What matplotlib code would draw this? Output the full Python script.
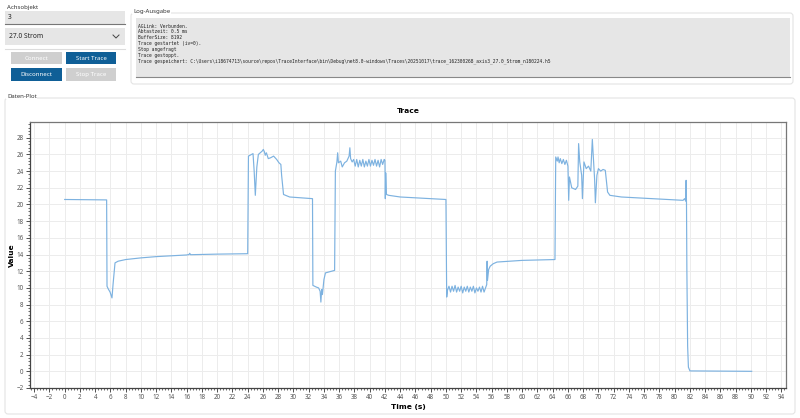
import numpy as np
import matplotlib.pyplot as plt
from matplotlib.patches import Rectangle, FancyBboxPatch
from matplotlib.ticker import MultipleLocator, AutoMinorLocator

# Daten
zeit = [
    0.0, 5.5, 5.55, 5.7, 5.95, 6.2, 6.35, 6.6, 7.0, 8.0, 10.0, 12.0, 14.0,
    16.0, 16.3, 16.4, 16.5, 20.0, 24.0,
    24.1, 24.5, 24.7, 24.85, 25.0, 25.2, 25.4, 25.9, 26.05, 26.2, 26.3, 26.45,
    26.7, 27.0, 27.4, 27.8, 28.1, 28.35, 28.45, 28.7, 29.5, 31.0, 32.5,
    32.55, 33.0, 33.3, 33.5, 33.6, 33.7, 33.8, 34.0, 34.2, 35.0, 35.4,
    35.5, 35.7, 35.8, 35.9, 36.2, 36.4, 36.7, 37.0, 37.3, 37.4, 37.5, 37.7,
    37.9, 38.1, 38.3, 38.5, 38.7, 38.9, 39.1, 39.3, 39.5, 39.7, 39.9, 40.1,
    40.3, 40.5, 40.7, 40.9, 41.1, 41.3, 41.5, 41.7, 41.9,
    42.0, 42.05, 42.1, 42.2, 42.5, 44.0, 47.0, 50.0,
    50.1, 50.2, 50.4, 50.6, 50.8, 51.0, 51.2, 51.4, 51.6, 51.8, 52.0, 52.2,
    52.4, 52.6, 52.8, 53.0, 53.2, 53.4, 53.6, 53.8, 54.0, 54.2, 54.4, 54.6,
    54.8, 55.0, 55.2, 55.35, 55.4, 55.45, 55.6, 55.8, 56.2, 56.7, 60.0, 64.3,
    64.4, 64.6, 64.7, 64.85, 65.0, 65.2, 65.4, 65.6, 65.8, 66.0, 66.1, 66.2,
    66.5, 67.0, 67.3, 67.4, 67.55, 67.8, 67.9, 68.1, 68.4, 68.7, 69.0, 69.2,
    69.5, 69.6, 69.8, 70.0, 70.3, 70.6, 70.9, 71.2, 71.5, 73.0, 76.0, 79.0,
    81.1, 81.3, 81.45, 81.5, 81.55, 81.6, 81.7, 81.8, 82.0, 90.1,
]
wert = [
    20.6, 20.55, 10.2, 9.9, 9.5, 8.8, 10.5, 13.0, 13.2, 13.4, 13.6, 13.75, 13.85,
    13.95, 14.0, 14.15, 13.98, 14.05, 14.1,
    25.8, 26.0, 26.1, 24.0, 21.1, 24.5, 26.0, 26.4, 26.6, 26.3, 25.9, 26.2,
    25.5, 25.6, 25.8, 25.4, 25.0, 24.8, 23.5, 21.2, 20.9, 20.8, 20.7,
    10.3, 10.1, 10.0, 9.6, 8.3, 9.8, 9.2, 11.0, 11.8, 12.0, 12.1,
    24.0, 25.1, 26.2, 25.0, 25.2, 24.5, 25.0, 25.2, 25.8, 26.8, 25.5, 25.1,
    25.4, 24.6, 25.4, 24.5, 25.3, 24.6, 25.4, 24.5, 25.2, 24.6, 25.4, 24.6,
    25.3, 24.7, 25.4, 24.6, 25.3, 24.5, 25.4, 24.8, 25.4,
    25.3, 20.7, 23.8, 21.2, 21.1, 20.9, 20.75, 20.6,
    8.9, 9.7, 10.2, 9.5, 10.2, 9.6, 10.3, 9.5, 10.1, 9.6, 10.2, 9.4,
    10.1, 9.6, 10.2, 9.5, 10.1, 9.6, 10.2, 9.4, 10.0, 9.6, 10.1, 9.5,
    10.2, 9.5, 10.0, 10.4, 13.2, 10.9, 12.2, 12.6, 12.9, 13.1, 13.3, 13.4,
    25.7, 25.2, 25.7, 25.0, 25.5, 24.9, 25.4, 24.8, 25.3, 24.6, 20.5, 23.3,
    22.0, 21.8, 22.2, 27.3, 25.1, 23.5, 20.7, 25.1, 24.3, 24.6, 24.0, 27.8,
    23.0, 20.2, 23.5, 24.3, 24.0, 24.2, 24.1, 21.5, 21.1, 20.9, 20.75, 20.6,
    20.5, 20.7, 20.4, 22.9, 20.1, 12.0, 3.0, 0.5, 0.05, 0.0,
]

log_zeilen = [
    "AGLink: Verbunden.",
    "Abtastzeit: 0.5 ms",
    "BufferSize: 8192",
    "Trace gestartet (iv=0).",
    "Stop angefragt",
    "Trace gestoppt.",
    "Trace gespeichert: C:\\Users\\i18674713\\source\\repos\\TraceInterface\\bin\\Debug"
    "\\net8.0-windows\\Traces\\20251017\\trace_162300268_axis3_27.0_Strom_n180224.h5",
]

x_ticks = np.arange(-4, 95, 2)
y_ticks = np.arange(-2, 29, 2)

W, H = 800, 418
ui_font = "Noto Sans"
fett_font = "DejaVu Sans"
blau = "#0f5f97"
grau_btn = "#cfcfcf"

fig = plt.figure(figsize=(W / 100, H / 100), dpi=100)
fig.patch.set_facecolor("white")

# Hintergrund-Achse in Pixelkoordinaten fuer die Oberflaeche
ui = fig.add_axes([0, 0, 1, 1], zorder=0)
ui.set_xlim(0, W)
ui.set_ylim(H, 0)
ui.axis("off")


def box(x0, y0, x1, y1, fc, ec="none", lw=0.8, z=1):
    ui.add_patch(Rectangle((x0, y0), x1 - x0, y1 - y0, facecolor=fc,
                           edgecolor=ec, linewidth=lw, zorder=z))


def gruppe(x0, y0, x1, y1, titel):
    ui.add_patch(FancyBboxPatch((x0, y0), x1 - x0, y1 - y0,
                                boxstyle="round,pad=0,rounding_size=3",
                                facecolor="white", edgecolor="#e4e4e4",
                                linewidth=0.8, zorder=1))
    ui.text(x0 + 2, y0 - 2, titel, fontsize=4.3, family=ui_font,
            color="#333333", va="center", ha="left", zorder=3,
            bbox=dict(facecolor="white", edgecolor="none", pad=0.5))


# linke Bedienelemente
ui.text(7, 7, "Achsobjekt", fontsize=4.3, family=ui_font, color="#333333",
        va="center", ha="left")
box(5, 11, 125, 24, "#e6e6e6")
ui.plot([5, 125], [24, 24], color="#777777", lw=0.8, zorder=2)
ui.text(8, 17.5, "3", fontsize=4.8, family=ui_font, color="#222222",
        va="center", ha="left", zorder=3)
box(5, 28, 125, 45, "#e6e6e6")
ui.text(9, 36.5, "27.0 Strom", fontsize=4.8, family=ui_font, color="#222222",
        va="center", ha="left", zorder=3)
ui.plot([113, 116, 119], [35, 38, 35], color="#444444", lw=0.7, zorder=3)
ui.plot([5, 125], [49, 49], color="#dddddd", lw=0.8, zorder=2)

knoepfe = [
    (11, 52, 62, 64, "Connect", grau_btn),
    (66, 52, 116, 64, "Start Trace", blau),
    (11, 68, 62, 81, "Disconnect", blau),
    (66, 68, 116, 81, "Stop Trace", grau_btn),
]
for x0, y0, x1, y1, txt, fc in knoepfe:
    box(x0, y0, x1, y1, fc, z=2)
    ui.text((x0 + x1) / 2, (y0 + y1) / 2, txt, fontsize=4.4, family=ui_font,
            color="white", va="center", ha="center", zorder=3)

# Log-Ausgabe
gruppe(131, 13, 793, 84, "Log-Ausgabe")
box(136, 18, 790, 77, "#e6e6e6", z=2)
ui.plot([136, 790], [77, 77], color="#888888", lw=0.8, zorder=3)
for i, zeile in enumerate(log_zeilen):
    ui.text(138, 26 + i * 5.85, zeile, fontsize=3.35, family="DejaVu Sans Mono",
            color="#222222", va="center", ha="left", zorder=4)

# Daten-Plot Gruppe
gruppe(5, 98, 795, 414, "Daten-Plot")

# Diagramm
ax_l, ax_r, ax_t, ax_b = 30, 786, 121.5, 388
ax = fig.add_axes([ax_l / W, (H - ax_b) / H, (ax_r - ax_l) / W, (ax_b - ax_t) / H],
                  zorder=5)
ax.set_facecolor("white")
ax.plot(zeit, wert, color="#7db2e0", linewidth=0.85)

ax.set_xlim(-4.55, 94.6)
ax.set_ylim(-2, 29.95)
ax.xaxis.set_major_locator(MultipleLocator(2))
ax.yaxis.set_major_locator(MultipleLocator(2))
ax.xaxis.set_minor_locator(AutoMinorLocator(5))
ax.yaxis.set_minor_locator(AutoMinorLocator(5))
ax.set_xticks(x_ticks)
ax.set_yticks(y_ticks)
ax.tick_params(axis="both", which="major", labelsize=4.5, length=3, width=0.6,
               color="#333333", labelcolor="#555555", pad=1.5)
ax.tick_params(axis="both", which="minor", length=1.6, width=0.5, color="#333333")
for lab in ax.get_xticklabels() + ax.get_yticklabels():
    lab.set_family(ui_font)
ax.grid(True, which="major", color="#ececec", linewidth=0.7)
ax.set_axisbelow(True)
for side in ["top", "right"]:
    ax.spines[side].set_color("#777777")
    ax.spines[side].set_linewidth(0.9)
for side in ["left", "bottom"]:
    ax.spines[side].set_color("#444444")
    ax.spines[side].set_linewidth(0.9)

ax.set_title("Trace", fontsize=5.4, fontweight="bold", family=fett_font, pad=6)
ax.set_xlabel("Time (s)", fontsize=5.4, fontweight="bold", family=fett_font,
              labelpad=2)
ax.set_ylabel("Value", fontsize=5.4, fontweight="bold", family=fett_font,
              labelpad=1)

fig.savefig("out.png", dpi=100)
